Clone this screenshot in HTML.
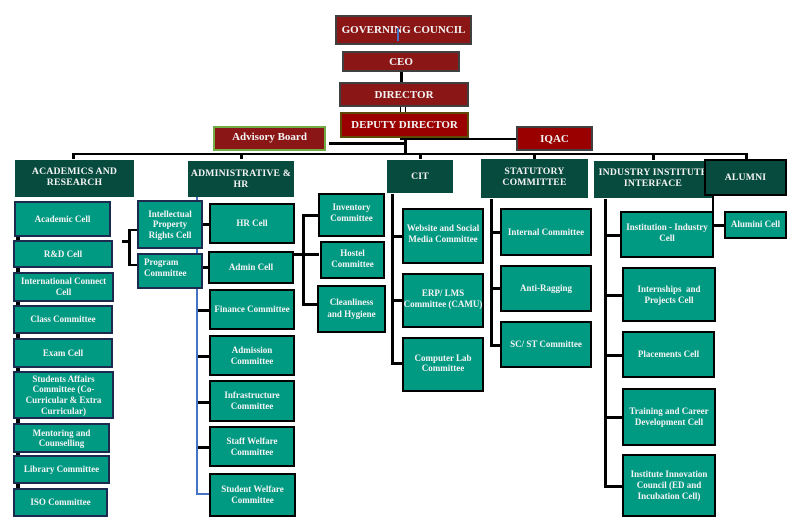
<!DOCTYPE html>
<html><head><meta charset="utf-8"><style>
html,body{margin:0;padding:0;background:#fff;}
body{width:801px;height:526px;position:relative;overflow:hidden;}
.b{position:absolute;box-sizing:border-box;display:flex;align-items:center;justify-content:center;text-align:center;font-family:"Liberation Serif",serif;font-weight:bold;color:#f3f3f3;white-space:nowrap;}
.r{background:#8b1616;border:2.5px solid #404040;font-size:11px;line-height:12px;}
.h{background:#064b3e;font-size:9.7px;line-height:11.5px;letter-spacing:0.2px;}
.c{background:#009a83;border:2.5px solid #000;font-size:9px;line-height:11px;}
.n{border-color:#1b2a4e;}
.l{position:absolute;background:#000;}
</style></head><body>

<!-- connector lines -->
<div class="l" style="left:400px;top:72px;width:2.5px;height:10px"></div>
<div class="l" style="left:400px;top:106px;width:6px;height:7px;background:none;border:1.5px solid #000;box-sizing:border-box"></div>
<div class="l" style="left:404px;top:137px;width:2.5px;height:17px"></div>
<div class="l" style="left:400px;top:137.5px;width:117px;height:2.5px"></div>
<div class="l" style="left:329px;top:142px;width:75px;height:2.5px"></div>
<div class="l" style="left:72px;top:152.5px;width:676px;height:2.8px"></div>
<div class="l" style="left:72px;top:152.5px;width:2.5px;height:6px"></div>
<div class="l" style="left:240px;top:152.5px;width:2.5px;height:6px"></div>
<div class="l" style="left:419px;top:152.5px;width:2.5px;height:6px"></div>
<div class="l" style="left:533px;top:152.5px;width:2.5px;height:6px"></div>
<div class="l" style="left:652px;top:152.5px;width:2.5px;height:7px"></div>
<div class="l" style="left:745px;top:152.5px;width:2.5px;height:7px"></div>

<div class="l" style="left:16px;top:236px;width:4px;height:252px"></div>

<div class="l" style="left:128px;top:229px;width:2.5px;height:36px"></div>
<div class="l" style="left:128px;top:228.5px;width:9px;height:2.5px"></div>
<div class="l" style="left:128px;top:263.5px;width:9px;height:2.5px"></div>
<div class="l" style="left:122px;top:240px;width:7px;height:2.5px"></div>

<div class="l" style="left:196px;top:197px;width:2.3px;height:298px;background:#4472c4"></div>
<div class="l" style="left:196px;top:493px;width:14px;height:2.3px;background:#4472c4"></div>
<div class="l" style="left:198px;top:223px;width:11px;height:2.5px"></div>
<div class="l" style="left:198px;top:266px;width:11px;height:2.5px"></div>
<div class="l" style="left:198px;top:309px;width:11px;height:2.5px"></div>
<div class="l" style="left:198px;top:355px;width:11px;height:2.5px"></div>
<div class="l" style="left:198px;top:401px;width:11px;height:2.5px"></div>
<div class="l" style="left:198px;top:446px;width:11px;height:2.5px"></div>

<div class="l" style="left:292px;top:253px;width:27px;height:2.5px"></div>
<div class="l" style="left:302px;top:214px;width:2.5px;height:91px"></div>
<div class="l" style="left:302px;top:214px;width:16px;height:2.5px"></div>
<div class="l" style="left:302px;top:303px;width:16px;height:2.5px"></div>

<div class="l" style="left:391px;top:194px;width:2.5px;height:170px"></div>
<div class="l" style="left:391px;top:235px;width:11px;height:2.5px"></div>
<div class="l" style="left:391px;top:299px;width:11px;height:2.5px"></div>
<div class="l" style="left:391px;top:362px;width:11px;height:2.5px"></div>

<div class="l" style="left:490px;top:199px;width:2.5px;height:147px"></div>
<div class="l" style="left:490px;top:231px;width:10px;height:2.5px"></div>
<div class="l" style="left:490px;top:287px;width:10px;height:2.5px"></div>
<div class="l" style="left:490px;top:344px;width:10px;height:2.5px"></div>

<div class="l" style="left:604px;top:199px;width:2.5px;height:288px"></div>
<div class="l" style="left:604px;top:234px;width:18px;height:2.5px"></div>
<div class="l" style="left:604px;top:294px;width:18px;height:2.5px"></div>
<div class="l" style="left:604px;top:354px;width:18px;height:2.5px"></div>
<div class="l" style="left:604px;top:416px;width:18px;height:2.5px"></div>
<div class="l" style="left:604px;top:485px;width:18px;height:2.5px"></div>

<div class="l" style="left:711.5px;top:196px;width:2.5px;height:16px"></div>
<div class="l" style="left:714px;top:224px;width:10px;height:2.5px"></div>

<!-- top -->
<div class="b r" style="left:335px;top:15px;width:137px;height:30px">GOVERNING COUNCIL</div>
<div class="l" style="left:397px;top:28px;width:2px;height:13px;background:#4472c4"></div>
<div class="b r" style="left:342px;top:51px;width:118px;height:21px">CEO</div>
<div class="b r" style="left:339px;top:82px;width:130px;height:25px">DIRECTOR</div>
<div class="b r" style="left:340px;top:112px;width:129px;height:26px;background:#9a0000;border-color:#5f4a0a">DEPUTY DIRECTOR</div>
<div class="b r" style="left:213px;top:126px;width:113px;height:25px;border-color:#70ad47;padding-bottom:4px">Advisory Board</div>
<div class="b r" style="left:516px;top:126px;width:77px;height:25px;background:#9a0000">IQAC</div>

<!-- headers -->
<div class="b h" style="left:15px;top:160px;width:119px;height:37px;padding-bottom:3px">ACADEMICS AND<br>RESEARCH</div>
<div class="b h" style="left:188px;top:161px;width:106px;height:36px">ADMINISTRATIVE &amp;<br>HR</div>
<div class="b h" style="left:387px;top:160px;width:66px;height:33px">CIT</div>
<div class="b h" style="left:481px;top:159px;width:107px;height:39px;padding-bottom:3px">STATUTORY<br>COMMITTEE</div>
<div class="b h" style="left:594px;top:161px;width:118px;height:37px;padding-bottom:3px">INDUSTRY INSTITUTE<br>INTERFACE</div>
<div class="b h" style="left:704px;top:159px;width:83px;height:37px;border:2.5px solid #000">ALUMNI</div>

<!-- academics -->
<div class="b c n" style="left:14px;top:201px;width:97px;height:36px">Academic Cell</div>
<div class="b c n" style="left:13px;top:240px;width:100px;height:28px">R&amp;D Cell</div>
<div class="b c n" style="left:13px;top:272px;width:101px;height:30px">International Connect<br>Cell</div>
<div class="b c n" style="left:13px;top:305px;width:100px;height:29px">Class Committee</div>
<div class="b c n" style="left:13px;top:338px;width:100px;height:30px">Exam Cell</div>
<div class="b c n" style="left:13px;top:371px;width:101px;height:48px;line-height:10.7px">Students Affairs<br>Committee (Co-<br>Curricular &amp; Extra<br>Curricular)</div>
<div class="b c n" style="left:13px;top:423px;width:97px;height:30px;line-height:10px">Mentoring and<br>Counselling</div>
<div class="b c n" style="left:13px;top:455px;width:97px;height:29px">Library Committee</div>
<div class="b c n" style="left:13px;top:488px;width:95px;height:29px">ISO Committee</div>

<!-- admin -->
<div class="b c n" style="left:137px;top:200px;width:66px;height:49px;line-height:10.5px">Intellectual<br>Property<br>Rights Cell</div>
<div class="b c n" style="left:137px;top:253px;width:66px;height:36px;justify-content:flex-start;text-align:left;padding-left:5px;padding-bottom:7px">Program<br>Committee</div>
<div class="b c" style="left:209px;top:203px;width:86px;height:41px">HR Cell</div>
<div class="b c" style="left:208px;top:251px;width:86px;height:33px">Admin Cell</div>
<div class="b c" style="left:209px;top:289px;width:86px;height:41px">Finance Committee</div>
<div class="b c" style="left:209px;top:335px;width:86px;height:41px">Admission<br>Committee</div>
<div class="b c" style="left:209px;top:380px;width:86px;height:42px">Infrastructure<br>Committee</div>
<div class="b c" style="left:209px;top:426px;width:86px;height:41px">Staff Welfare<br>Committee</div>
<div class="b c" style="left:209px;top:473px;width:87px;height:44px">Student Welfare<br>Committee</div>

<div class="b c" style="left:318px;top:193px;width:67px;height:44px;padding-bottom:4px">Inventory<br>Committee</div>
<div class="b c" style="left:320px;top:241px;width:65px;height:38px;padding-bottom:3px">Hostel<br>Committee</div>
<div class="b c" style="left:317px;top:285px;width:69px;height:48px;line-height:12px;padding-bottom:3px">Cleanliness<br>and Hygiene</div>

<!-- CIT -->
<div class="b c" style="left:402px;top:208px;width:82px;height:56px;padding-bottom:4px">Website and Social<br>Media Committee</div>
<div class="b c" style="left:402px;top:273px;width:82px;height:55px;padding-bottom:4px">ERP/ LMS<br>Committee (CAMU)</div>
<div class="b c" style="left:402px;top:337px;width:82px;height:55px;line-height:10px;padding-bottom:4px">Computer Lab<br>Committee</div>

<!-- statutory -->
<div class="b c" style="left:500px;top:208px;width:92px;height:48px">Internal Committee</div>
<div class="b c" style="left:500px;top:265px;width:92px;height:47px">Anti-Ragging</div>
<div class="b c" style="left:500px;top:321px;width:92px;height:47px">SC/ ST Committee</div>

<!-- industry -->
<div class="b c" style="left:620px;top:211px;width:94px;height:47px;padding-bottom:4px">Institution - Industry<br>Cell</div>
<div class="b c" style="left:622px;top:267px;width:94px;height:55px">Internships&nbsp; and<br>Projects Cell</div>
<div class="b c" style="left:622px;top:331px;width:93px;height:47px">Placements Cell</div>
<div class="b c" style="left:622px;top:388px;width:94px;height:58px">Training and Career<br>Development Cell</div>
<div class="b c" style="left:622px;top:454px;width:94px;height:63px">Institute Innovation<br>Council (ED and<br>Incubation Cell)</div>

<div class="b c" style="left:724px;top:211px;width:63px;height:28px;padding-bottom:2px">Alumini Cell</div>

</body></html>
